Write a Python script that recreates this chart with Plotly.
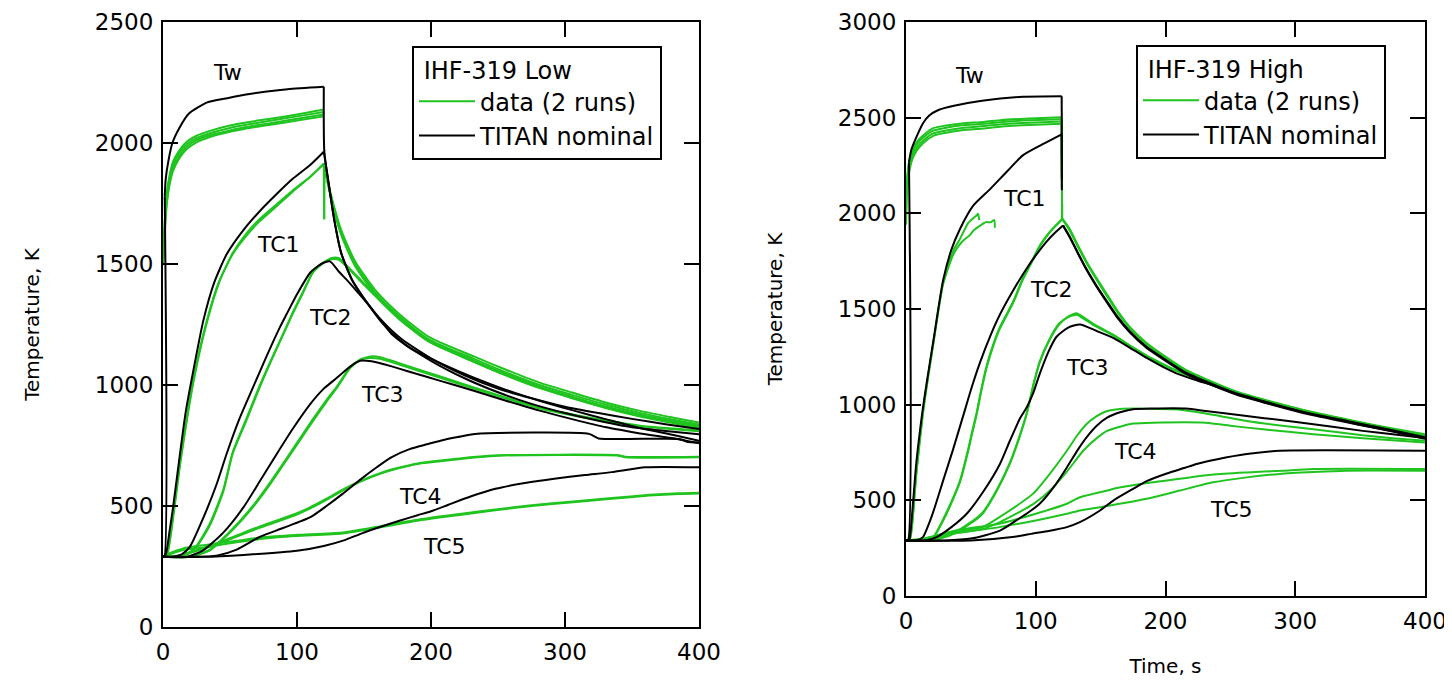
import plotly.graph_objects as go

# ---------------- data: left panel (IHF-319 Low) ----------------
L_TW_TITAN_T = [0, 1.0, 1.3, 2, 4, 7, 12, 19, 33, 48, 62, 76, 93, 120, 120.4, 123.4, 128, 133, 141, 151, 163, 178, 200, 225, 250, 275, 300, 325, 350, 375, 400]
L_TW_TITAN_V = [290, 290, 1780, 1850, 1925, 2000, 2060, 2120, 2168, 2185, 2200, 2212, 2222, 2232, 1964, 1841, 1676, 1545, 1435, 1350, 1268, 1190, 1110, 1040, 985, 945, 910, 884, 860, 838, 818]

L_TC1_TITAN_T = [0, 2, 5, 7.5, 12.7, 17, 22.6, 30, 38, 47.5, 60, 72, 85, 97, 110, 120, 123.4, 128, 133, 141, 151, 163, 178, 200, 225, 250, 275, 300, 325, 350, 375, 400]
L_TC1_TITAN_V = [290, 300, 400, 494, 716, 890, 1058, 1264, 1420, 1540, 1640, 1717, 1790, 1853, 1910, 1964, 1841, 1676, 1545, 1435, 1350, 1260, 1180, 1100, 1028, 970, 922, 884, 852, 825, 810, 797]

L_TC2_TITAN_T = [0, 8, 14, 20, 30, 40, 47.5, 57, 67, 77, 87, 92, 100, 110, 118, 124.6, 131, 138, 145, 153, 162, 170.6, 185, 207, 232, 256, 281, 306, 331, 356, 381, 400]
L_TC2_TITAN_V = [290, 290, 300, 331, 450, 590, 716, 860, 988, 1115, 1236, 1290, 1375, 1465, 1500, 1511, 1470, 1429, 1385, 1334, 1270, 1211, 1150, 1090, 1030, 980, 935, 895, 858, 822, 793, 770]

L_TC3_TITAN_T = [0, 18, 30, 45, 60, 72, 85, 97, 110, 120, 127, 135, 142, 147, 152, 160, 170, 182, 207, 232, 256, 281, 306, 331, 356, 381, 400]
L_TC3_TITAN_V = [290, 290, 317, 390, 494, 600, 716, 820, 922, 985, 1017, 1055, 1085, 1100, 1100, 1093, 1078, 1058, 1017, 976, 935, 894, 858, 825, 800, 780, 759]

L_TC4_TITAN_T = [0, 25, 40, 55, 72, 90, 110, 122, 134, 147, 159.5, 170, 184, 197, 207, 220, 233, 318, 325, 385, 392, 400]
L_TC4_TITAN_V = [290, 290, 295, 320, 372, 410, 454, 500, 550, 608, 660, 700, 735, 755, 770, 785, 798, 798, 779, 777, 764, 763]

L_TC5_TITAN_T = [0, 30, 60, 100, 120, 135, 148, 163, 177, 190, 200, 213, 230, 248, 270, 292, 315, 335, 360, 400]
L_TC5_TITAN_V = [290, 290, 298, 315, 335, 358, 386, 415, 440, 462, 478, 505, 540, 571, 595, 613, 628, 640, 660, 660]

L_TW_DATA_T = [0, 1, 2.7, 5, 7.5, 12, 17.7, 25, 35, 50, 62, 80, 100, 120]
L_TW_DATA_A = [1510, 1650, 1787, 1870, 1923, 1968, 2005, 2030, 2050, 2072, 2085, 2100, 2118, 2138]
L_TW_DATA_B = [1500, 1630, 1770, 1855, 1910, 1958, 1995, 2020, 2040, 2062, 2075, 2092, 2110, 2128]
L_TW_DATA_C = [1505, 1610, 1750, 1840, 1895, 1945, 1985, 2012, 2032, 2052, 2066, 2082, 2100, 2118]
L_TW_DATA_D = [1495, 1600, 1740, 1830, 1885, 1935, 1975, 2003, 2025, 2046, 2060, 2075, 2093, 2110]
L_HOT_DECAY_T = [120.2, 126, 133, 143, 158, 175, 198, 232, 256, 281, 306, 331, 356, 381, 400]
L_HOT_DECAY_A = [1911, 1772, 1640, 1515, 1395, 1300, 1200, 1118, 1063, 1010, 968, 927, 893, 865, 845]
L_HOT_DECAY_B = [1905, 1765, 1630, 1505, 1385, 1290, 1190, 1108, 1052, 1000, 958, 918, 884, 856, 837]

L_TC1_DATA_T = [0, 3, 8, 13, 23, 32.6, 42, 52, 62, 72, 85, 97, 110, 120, 120.3, 120.6, 126, 133, 143, 158, 175, 198, 232, 256, 281, 306, 331, 356, 381, 400]
L_TC1_DATA_A = [290, 300, 480, 690, 1030, 1264, 1430, 1540, 1615, 1676, 1740, 1800, 1860, 1916, 1685, 1900, 1760, 1625, 1500, 1380, 1285, 1186, 1100, 1045, 992, 950, 910, 877, 850, 832]
L_TC1_DATA_B = [290, 302, 470, 680, 1020, 1255, 1425, 1545, 1625, 1685, 1748, 1805, 1862, 1912, 1905, 1900, 1755, 1620, 1495, 1375, 1280, 1182, 1096, 1040, 988, 946, 906, 873, 846, 828]

L_TC2_DATA_T = [0, 10, 18, 25, 35, 45, 52, 62, 72, 82, 92, 96, 104, 112, 120, 126, 131, 136, 143, 150, 158, 175, 198, 232, 256, 281, 306, 331, 356, 381, 400]
L_TC2_DATA_A = [290, 290, 300, 331, 420, 560, 716, 850, 988, 1115, 1236, 1285, 1375, 1465, 1505, 1525, 1525, 1500, 1460, 1420, 1375, 1282, 1185, 1100, 1045, 992, 948, 908, 873, 845, 825]
L_TC2_DATA_B = [290, 290, 302, 335, 428, 568, 722, 858, 995, 1120, 1240, 1290, 1380, 1468, 1508, 1520, 1518, 1495, 1455, 1414, 1370, 1278, 1180, 1096, 1040, 988, 944, 904, 870, 842, 822]

L_TC3_DATA_T = [0, 20, 35, 50, 67, 80, 92, 102, 112, 122, 130, 140, 148, 155, 162, 182, 207, 232, 256, 281, 306, 331, 356, 381, 400]
L_TC3_DATA_A = [290, 290, 317, 390, 494, 590, 688, 770, 852, 930, 990, 1072, 1105, 1118, 1115, 1080, 1035, 990, 948, 907, 878, 853, 832, 820, 812]
L_TC3_DATA_B = [290, 290, 320, 395, 500, 598, 695, 778, 860, 938, 996, 1076, 1108, 1112, 1108, 1074, 1030, 985, 944, 903, 874, 849, 829, 817, 809]

L_TC4_DATA_T = [0, 10, 35, 72, 85, 99, 110, 122, 134, 147, 162.5, 175, 191, 207, 234, 250, 340, 345, 400]
L_TC4_DATA_A = [290, 292, 331, 410, 435, 463, 490, 525, 564, 600, 634, 655, 675, 685, 701, 708, 708, 701, 701]
L_TC4_DATA_B = [290, 294, 336, 415, 440, 468, 495, 530, 568, 603, 637, 657, 677, 688, 704, 710, 710, 704, 704]

L_TC5_DATA_T = [0, 5, 15, 33, 55, 76, 100, 134, 160, 191, 220, 248, 275, 306, 335, 363, 385, 400]
L_TC5_DATA_A = [290, 300, 318, 331, 350, 366, 376, 386, 410, 440, 462, 482, 500, 516, 530, 543, 550, 552]
L_TC5_DATA_B = [290, 305, 325, 340, 356, 372, 381, 391, 414, 444, 466, 486, 503, 519, 533, 546, 553, 555]

# ---------------- data: right panel (IHF-319 High) ----------------
R_DECAY_TITAN_T = [121, 126, 132, 139, 147, 155, 163, 172.6, 185, 198, 215, 236.7, 255, 275, 295, 314, 335, 352, 375, 400]
R_DECAY_TITAN_V = [1937, 1880, 1800, 1710, 1620, 1539, 1460, 1383, 1305, 1244, 1170, 1106, 1058, 1019, 982, 950, 922, 898, 866, 830]
R_DECAY_TITAN_W = [1937, 1878, 1797, 1706, 1615, 1533, 1454, 1377, 1299, 1238, 1164, 1100, 1052, 1013, 976, 944, 915, 891, 859, 822]
R_DECAY_DATA_T = [120.5, 126, 132, 139, 147, 155, 163, 172.6, 185, 198, 215, 236.7, 255, 275, 295, 314, 335, 352, 375, 400]
R_DECAY_DATA_A = [1972, 1920, 1840, 1750, 1660, 1575, 1490, 1405, 1325, 1260, 1185, 1118, 1068, 1028, 992, 960, 930, 905, 875, 845]
R_DECAY_DATA_B = [1968, 1912, 1832, 1742, 1652, 1566, 1482, 1398, 1318, 1254, 1180, 1113, 1063, 1023, 987, 955, 925, 900, 870, 840]

R_TW_TITAN_T = [0, 1.5, 2.3, 4, 8.5, 13, 17.7, 25, 37, 58.6, 90, 120, 120.1]
R_TW_TITAN_V = [290, 290, 2266, 2330, 2406, 2470, 2510, 2540, 2562, 2588, 2609, 2612, 2121]

R_TC1_TITAN_T = [0, 2, 3, 8, 13, 17, 21, 28.6, 35, 41.6, 51.8, 65, 78, 90, 105, 120, 120.1]
R_TC1_TITAN_V = [290, 290, 308, 700, 980, 1160, 1330, 1650, 1810, 1918, 2040, 2128, 2220, 2303, 2360, 2413, 2180]

R_TC2_TITAN_T = [0, 8, 13, 20, 28.6, 36, 44, 50.6, 57, 65, 72.4, 82, 93, 100, 108, 115, 121]
R_TC2_TITAN_V = [290, 290, 308, 420, 603, 760, 940, 1090, 1220, 1360, 1471, 1590, 1712, 1780, 1850, 1900, 1937]

R_TC3_TITAN_T = [0, 15, 23.6, 35, 46.8, 60, 72.4, 80, 88, 93, 98, 103, 110, 116, 125, 134, 147, 160, 172, 185.5, 198, 211, 225, 236.7, 255, 275, 295, 314, 335, 352, 375, 400]
R_TC3_TITAN_V = [290, 290, 308, 360, 430, 550, 690, 810, 930, 985, 1060, 1160, 1280, 1355, 1403, 1419, 1385, 1348, 1300, 1244, 1198, 1157, 1125, 1100, 1055, 1015, 980, 948, 918, 892, 862, 826]

R_TC4_TITAN_T = [0, 30, 50, 72, 85, 95, 103, 115, 124, 132, 139, 147, 155, 165, 175, 190, 216, 231, 262.6, 290, 314, 352, 375, 400]
R_TC4_TITAN_V = [290, 290, 300, 340, 395, 440, 482, 580, 672, 760, 828, 890, 932, 960, 976, 980, 980, 967, 941, 918, 898, 863, 845, 826]

R_TC5_TITAN_T = [0, 50, 82, 98, 110, 124, 134, 149.5, 160, 175, 185.5, 201, 215, 224, 240, 262.6, 288, 400]
R_TC5_TITAN_V = [290, 290, 308, 327, 340, 360, 386, 447, 500, 560, 600, 640, 670, 690, 715, 742, 759, 759]

R_TW_DATA_T = [0, 0.5, 2.3, 5, 8.5, 14, 21, 30, 43, 60, 74, 95, 120, 120.3]
R_TW_DATA_A = [1960, 2150, 2266, 2335, 2375, 2412, 2445, 2458, 2470, 2478, 2488, 2495, 2502, 1972]
R_TW_DATA_B = [1950, 2130, 2250, 2320, 2362, 2400, 2432, 2446, 2460, 2468, 2478, 2486, 2492, 1972]
R_TW_DATA_C = [1945, 2110, 2230, 2300, 2345, 2385, 2418, 2432, 2446, 2456, 2466, 2474, 2480, 1972]
R_TW_DATA_D = [1940, 2090, 2210, 2285, 2330, 2372, 2405, 2420, 2434, 2444, 2454, 2462, 2468, 1972]

R_TC1_DATA_TA = [0, 3, 5, 8, 13, 17, 21, 28.6, 36.8, 41.6, 48, 54.5, 55.5, 56.5]
R_TC1_DATA_A = [290, 300, 400, 650, 960, 1150, 1320, 1640, 1810, 1866, 1950, 1990, 1998, 1965]
R_TC1_DATA_TB = [0, 3, 5, 8, 13, 17, 21, 28.6, 36.8, 43, 49, 52, 58, 61.6, 65, 68, 68.5]
R_TC1_DATA_B = [290, 298, 390, 640, 950, 1140, 1315, 1630, 1790, 1850, 1885, 1910, 1940, 1954, 1953, 1965, 1925]

R_TC2_DATA_T = [0, 15, 21, 30, 41.6, 48, 51, 54.5, 58, 62, 67, 72, 82.6, 90, 98, 103, 108, 113, 118, 120.5]
R_TC2_DATA_A = [290, 290, 308, 420, 603, 770, 860, 960, 1080, 1200, 1310, 1400, 1539, 1660, 1764, 1830, 1880, 1920, 1955, 1972]
R_TC2_DATA_B = [290, 290, 305, 412, 595, 760, 850, 950, 1070, 1190, 1302, 1392, 1532, 1652, 1758, 1826, 1876, 1918, 1952, 1970]

R_TC3_DATA_T = [0, 20, 35, 50, 59, 70, 80, 87, 93, 98.5, 103, 110, 118, 125, 131.5, 134, 145, 160, 175, 190, 205, 220, 236.7, 255, 275, 295, 314, 335, 352, 375, 400]
R_TC3_DATA_A = [290, 290, 320, 380, 430, 550, 690, 820, 951, 1110, 1220, 1330, 1419, 1460, 1478, 1469, 1420, 1365, 1300, 1240, 1190, 1150, 1112, 1065, 1025, 990, 958, 928, 903, 872, 838]
R_TC3_DATA_B = [290, 290, 324, 386, 436, 556, 696, 826, 955, 1114, 1224, 1334, 1424, 1458, 1470, 1462, 1414, 1360, 1296, 1236, 1186, 1146, 1108, 1061, 1021, 986, 955, 925, 900, 869, 835]

R_TC4_DATA_TA = [0, 10, 34, 59, 72, 85, 98, 111, 124, 132, 139, 147, 155, 165, 175, 190, 210, 230, 262.6, 290, 314, 352, 375, 400]
R_TC4_DATA_A = [290, 295, 334, 360, 412, 470, 535, 640, 759, 840, 898, 940, 967, 978, 980, 978, 975, 955, 915, 890, 872, 840, 825, 811]
R_TC4_DATA_TB = [0, 10, 34, 59, 72, 85, 98, 111, 124, 136.6, 147, 155, 165, 175, 190, 231, 250, 275, 314, 352, 400]
R_TC4_DATA_B = [290, 293, 325, 350, 385, 430, 480, 551, 650, 759, 825, 863, 885, 901, 906, 906, 890, 871, 846, 825, 802]

R_TC5_DATA_TA = [0, 15, 40, 72, 100, 124, 134, 155, 160, 185.5, 211, 236.7, 262.6, 290, 314, 400]
R_TC5_DATA_A = [290, 300, 345, 378, 430, 482, 516, 551, 560, 590, 613, 635, 646, 655, 664, 664]
R_TC5_DATA_TB = [0, 15, 40, 72, 100, 124, 134, 149.5, 185.5, 211, 236.7, 262.6, 288, 314, 339, 400]
R_TC5_DATA_B = [290, 295, 330, 360, 395, 430, 447, 464, 508, 551, 594, 620, 638, 648, 655, 655]

X_TICKS = [0, 100, 200, 300, 400]
LEFT_TITLE = "\u00a0IHF-319 Low"
RIGHT_TITLE = "\u00a0IHF-319 High"
DATA_NAME = "data (2 runs)"
TITAN_NAME = "TITAN nominal"
LEFT_LABELS = [("Tw", 48, 2290), ("TC1", 86, 1580), ("TC2", 125, 1278), ("TC3", 164, 962), ("TC4", 192, 539), ("TC5", 210, 331)]
RIGHT_LABELS = [("Tw", 48.6, 2720), ("TC1", 91.4, 2076), ("TC2", 112, 1604), ("TC3", 140, 1192), ("TC4", 177, 755), ("TC5", 250.5, 450)]

GREEN = "#1fc41f"
BLACK = "#000000"
FONT = "DejaVu Sans"

# figure is drawn inside the page's default 8px body margin
W, H, OFF = 1444, 673, 8


def px_x(x):
    return (x - OFF) / W


def px_y(y):
    return 1 - (y - OFF) / H


fig = go.Figure()


def add(t, v, color, panel, legend_name=None, rank=None, splits=()):
    """Draw one curve; 'splits' are indices where a sharp corner is kept."""
    xa, ya, lg = ("x", "y", "legend") if panel == 1 else ("x2", "y2", "legend2")
    bounds = [0] + list(splits) + [len(t) - 1]
    for k in range(len(bounds) - 1):
        a, b = bounds[k], bounds[k + 1]
        first = k == 0
        fig.add_trace(go.Scatter(
            x=t[a:b + 1], y=v[a:b + 1], mode="lines", xaxis=xa, yaxis=ya,
            line=dict(color=color, width=2, shape="spline", smoothing=0.6),
            name=legend_name if legend_name else "",
            showlegend=(legend_name is not None) and first,
            legend=lg, legendrank=rank if rank else 1000,
            hoverinfo="skip",
        ))


# left panel: data (green)
add(L_TC1_DATA_T, L_TC1_DATA_A, GREEN, 1, DATA_NAME, 1, splits=(13, 14, 15))
for arr in (L_TW_DATA_A, L_TW_DATA_B, L_TW_DATA_C, L_TW_DATA_D):
    add(L_TW_DATA_T, arr, GREEN, 1)
add(L_HOT_DECAY_T, L_HOT_DECAY_A, GREEN, 1)
add(L_HOT_DECAY_T, L_HOT_DECAY_B, GREEN, 1)
add(L_TC1_DATA_T, L_TC1_DATA_B, GREEN, 1, splits=(13,))
add(L_TC2_DATA_T, L_TC2_DATA_A, GREEN, 1)
add(L_TC2_DATA_T, L_TC2_DATA_B, GREEN, 1)
add(L_TC3_DATA_T, L_TC3_DATA_A, GREEN, 1)
add(L_TC3_DATA_T, L_TC3_DATA_B, GREEN, 1)
add(L_TC4_DATA_T, L_TC4_DATA_A, GREEN, 1)
add(L_TC4_DATA_T, L_TC4_DATA_B, GREEN, 1)
add(L_TC5_DATA_T, L_TC5_DATA_A, GREEN, 1)
add(L_TC5_DATA_T, L_TC5_DATA_B, GREEN, 1)
# left panel: TITAN (black)
add(L_TW_TITAN_T, L_TW_TITAN_V, BLACK, 1, TITAN_NAME, 2, splits=(2, 13))
add(L_TC1_TITAN_T, L_TC1_TITAN_V, BLACK, 1, splits=(15,))
add(L_TC2_TITAN_T, L_TC2_TITAN_V, BLACK, 1)
add(L_TC3_TITAN_T, L_TC3_TITAN_V, BLACK, 1)
add(L_TC4_TITAN_T, L_TC4_TITAN_V, BLACK, 1)
add(L_TC5_TITAN_T, L_TC5_TITAN_V, BLACK, 1)

# right panel: data (green)
add(R_TC2_DATA_T, R_TC2_DATA_A, GREEN, 2, DATA_NAME, 1)
add(R_TC2_DATA_T, R_TC2_DATA_B, GREEN, 2)
for arr in (R_TW_DATA_A, R_TW_DATA_B, R_TW_DATA_C, R_TW_DATA_D):
    add(R_TW_DATA_T, arr, GREEN, 2, splits=(12,))
add(R_DECAY_DATA_T, R_DECAY_DATA_A, GREEN, 2)
add(R_DECAY_DATA_T, R_DECAY_DATA_B, GREEN, 2)
add(R_TC1_DATA_TA, R_TC1_DATA_A, GREEN, 2)
add(R_TC1_DATA_TB, R_TC1_DATA_B, GREEN, 2)
add(R_TC3_DATA_T, R_TC3_DATA_A, GREEN, 2)
add(R_TC3_DATA_T, R_TC3_DATA_B, GREEN, 2)
add(R_TC4_DATA_TA, R_TC4_DATA_A, GREEN, 2)
add(R_TC4_DATA_TB, R_TC4_DATA_B, GREEN, 2)
add(R_TC5_DATA_TA, R_TC5_DATA_A, GREEN, 2)
add(R_TC5_DATA_TB, R_TC5_DATA_B, GREEN, 2)
# right panel: TITAN (black)
add(R_TW_TITAN_T, R_TW_TITAN_V, BLACK, 2, TITAN_NAME, 2, splits=(2, 11))
add(R_TC1_TITAN_T, R_TC1_TITAN_V, BLACK, 2, splits=(15,))
add(R_TC2_TITAN_T, R_TC2_TITAN_V, BLACK, 2)
add(R_DECAY_TITAN_T, R_DECAY_TITAN_V, BLACK, 2)
add(R_DECAY_TITAN_T, R_DECAY_TITAN_W, BLACK, 2)
add(R_TC3_TITAN_T, R_TC3_TITAN_V, BLACK, 2)
add(R_TC4_TITAN_T, R_TC4_TITAN_V, BLACK, 2)
add(R_TC5_TITAN_T, R_TC5_TITAN_V, BLACK, 2)

annotations = []
for txt, tx, ty in LEFT_LABELS:
    annotations.append(dict(text=txt, x=tx, y=ty, xref="x", yref="y", showarrow=False,
                            font=dict(family=FONT, size=22, color="black")))
for txt, tx, ty in RIGHT_LABELS:
    annotations.append(dict(text=txt, x=tx, y=ty, xref="x2", yref="y2", showarrow=False,
                            font=dict(family=FONT, size=22, color="black")))

axis_common = dict(showline=True, linecolor="black", linewidth=2, mirror="ticks",
                   ticks="inside", ticklen=15, tickwidth=2, tickcolor="black",
                   showgrid=False, zeroline=False, automargin=False,
                   ticklabeloverflow="allow",
                   tickfont=dict(family=FONT, size=23, color="black"))

legend_common = dict(bgcolor="white", bordercolor="black", borderwidth=2,
                     font=dict(family=FONT, size=24, color="black"),
                     xanchor="left", yanchor="top", traceorder="normal",
                     tracegroupgap=0, itemwidth=56,
                     itemclick=False, itemdoubleclick=False)

fig.update_layout(
    width=W, height=H,
    margin=dict(l=0, r=0, t=0, b=0, autoexpand=False),
    paper_bgcolor="white", plot_bgcolor="white",
    font=dict(family=FONT, color="black"),
    xaxis=dict(domain=[px_x(163), px_x(699)], range=[0, 400], tickvals=X_TICKS,
               anchor="y", ticklabelstandoff=3, **axis_common),
    yaxis=dict(domain=[px_y(627), px_y(22)], range=[0, 2500], dtick=500, anchor="x",
               ticklabelstandoff=3,
               title=dict(text="Temperature, K", font=dict(family=FONT, size=20), standoff=50),
               **axis_common),
    xaxis2=dict(domain=[px_x(906), px_x(1425)], range=[0, 400], tickvals=X_TICKS,
                anchor="y2", ticklabelstandoff=3,
                title=dict(text="Time, s", font=dict(family=FONT, size=20), standoff=26),
                **axis_common),
    yaxis2=dict(domain=[px_y(596), px_y(22)], range=[0, 3000], dtick=500, anchor="x2",
                ticklabelstandoff=3,
                title=dict(text="Temperature, K", font=dict(family=FONT, size=20), standoff=50),
                **axis_common),
    legend=dict(x=px_x(412), y=px_y(46),
                title=dict(text=LEFT_TITLE, font=dict(family=FONT, size=24)),
                **legend_common),
    legend2=dict(x=px_x(1136), y=px_y(45),
                 title=dict(text=RIGHT_TITLE, font=dict(family=FONT, size=24)),
                 **legend_common),
    annotations=annotations,
    showlegend=True,
)

fig.write_html("out.html")
